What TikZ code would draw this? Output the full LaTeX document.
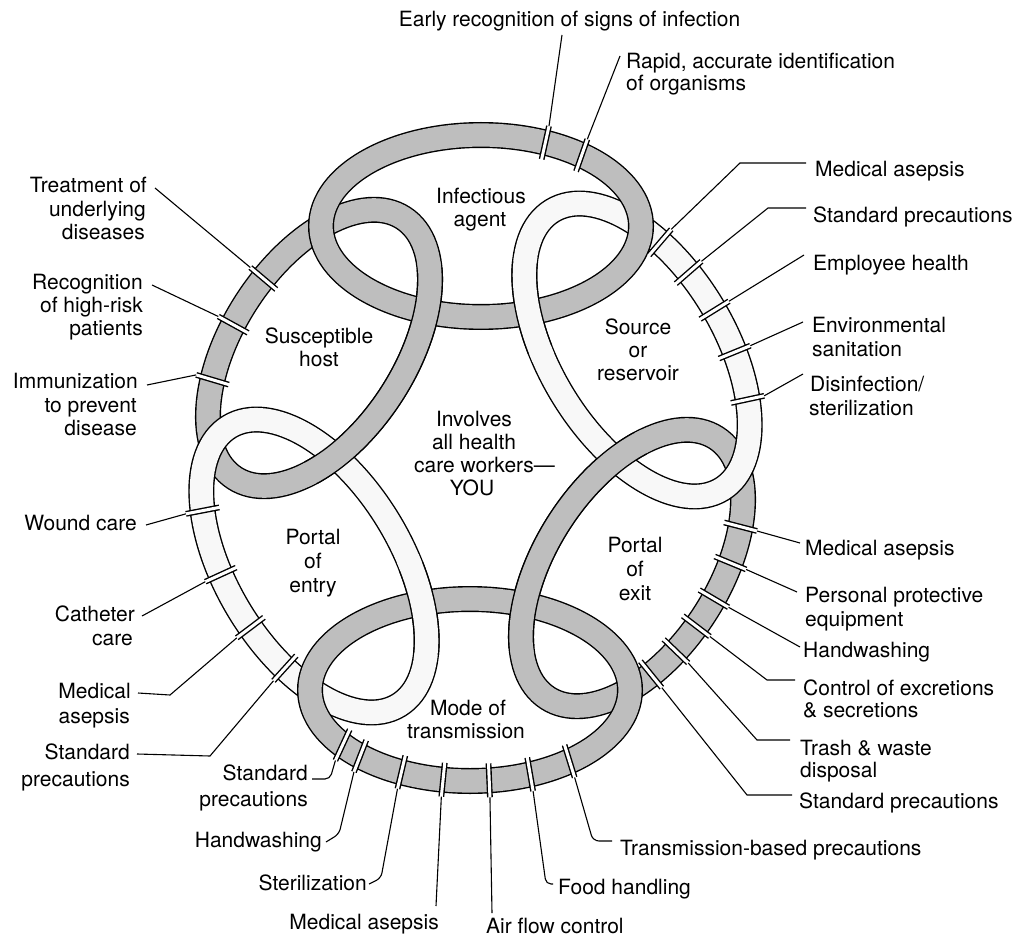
\documentclass[tikz,border=0pt]{standalone}
\usepackage{fontspec}
\setmainfont{TeX Gyre Heros}
\usetikzlibrary{calc}
\definecolor{darkband}{RGB}{190,190,190}
\definecolor{lightband}{RGB}{248,248,248}
\tikzset{
  bo/.style={line width=26pt, draw=black},
  bi/.style={line width=23.2pt, draw=#1},
  lbl/.style={inner sep=0pt, font=\fontsize{21}{24}\selectfont},
  leader/.style={line width=1.1pt},
  eI/.style={shift={(481,226)}},
  eS/.style={shift={(637,350)},rotate=-58.7},
  eE/.style={shift={(632,568)},rotate=57},
  eM/.style={shift={(470,690)}},
  eN/.style={shift={(314,566)},rotate=-58.7},
  eH/.style={shift={(319,348)},rotate=57},
}
\newcommand\bandfull[4]{%
  \draw[#1, bo] (0,0) ellipse [x radius=#2, y radius=#3];
  \draw[#1, bi=#4] (0,0) ellipse [x radius=#2, y radius=#3];}
\newcommand\bandarc[6]{%
  \draw[#1, bo] (#5:#2 and #3) arc[start angle=#5, end angle=#6, x radius=#2, y radius=#3];
  \pgfmathsetmacro\ta{#5-3}\pgfmathsetmacro\tb{#6+3}%
  \draw[#1, bi=#4] (\ta:#2 and #3) arc[start angle=\ta, end angle=\tb, x radius=#2, y radius=#3];}
\newcommand\divpt[5]{\path[#1] (#4:#2 and #3) coordinate (#5);
  \coordinate (#5o) at ($(#5)!-17pt!(O)$);}
\newcommand\divdraw[1]{%
  \draw[line width=5.8pt] ($(#1)!17pt!(O)$) -- ($(#1)!-17pt!(O)$);
  \draw[white, line width=3pt] ($(#1)!18pt!(O)$) -- ($(#1)!-18pt!(O)$);}
\begin{document}
\begin{tikzpicture}[x=1pt,y=-1pt]
\useasboundingbox (0,0) rectangle (1022,941);
\fill[white] (0,0) rectangle (1022,941);
\coordinate (O) at (475.5,458);
% full bands, bottom to top
\bandfull{eH}{155}{86}{darkband}
\bandfull{eE}{155}{86}{darkband}
\bandfull{eS}{163}{87}{lightband}
\bandfull{eN}{163}{87}{lightband}
\bandfull{eI}{160}{91}{darkband}
\bandfull{eM}{160}{91}{darkband}
% interior crossings
\bandarc{eS}{163}{87}{lightband}{108}{145}
\bandarc{eN}{163}{87}{lightband}{288}{325}
\bandarc{eE}{155}{86}{darkband}{215}{315}
\bandarc{eH}{155}{86}{darkband}{35}{135}
% divider points
\divpt{eI}{160}{91}{-66.3}{d1}
\divpt{eI}{160}{91}{-51}{d2}
\divpt{eS}{163}{87}{-119.4}{d3}
\divpt{eS}{163}{87}{-104}{d4}
\divpt{eS}{163}{87}{-87.8}{d5}
\divpt{eS}{163}{87}{-71.2}{d6}
\divpt{eS}{163}{87}{-52.3}{d7}
\divpt{eE}{155}{86}{52.8}{d8}
\divpt{eE}{155}{86}{68.1}{d9}
\divpt{eE}{155}{86}{83}{d10}
\divpt{eE}{155}{86}{95.1}{d11}
\divpt{eE}{155}{86}{107.2}{d12}
\divpt{eE}{155}{86}{120.6}{d13}
\divpt{eM}{160}{91}{51.5}{d14}
\divpt{eM}{160}{91}{67.9}{d15}
\divpt{eM}{160}{91}{83.1}{d16}
\divpt{eM}{160}{91}{99.7}{d17}
\divpt{eM}{160}{91}{115.4}{d18}
\divpt{eM}{160}{91}{133.4}{d19}
\divpt{eM}{160}{91}{142.8}{d20}
\divpt{eN}{163}{87}{63.7}{d21}
\divpt{eN}{163}{87}{83.1}{d22}
\divpt{eN}{163}{87}{104.6}{d23}
\divpt{eN}{163}{87}{130.2}{d24}
\divpt{eH}{155}{86}{-123.1}{d25}
\divpt{eH}{155}{86}{-100.1}{d26}
\divpt{eH}{155}{86}{-79.6}{d27}
\foreach \k in {1,...,27}{\divdraw{d\k}}
% leader start points
\coordinate (k1) at (562,35);
\coordinate (k2) at (620,56);
\coordinate (k3) at (806,163);
\coordinate (k4) at (806,208);
\coordinate (k5) at (804,255);
\coordinate (k6) at (803,322);
\coordinate (k7) at (803,374);
\coordinate (k8) at (800,543);
\coordinate (k9) at (797,592);
\coordinate (k10) at (800,647);
\coordinate (k11) at (795,680);
\coordinate (k12) at (790,740);
\coordinate (k13) at (792,795);
\coordinate (k14) at (612,841);
\coordinate (k15) at (553,884);
\coordinate (k16) at (492,913);
\coordinate (k17) at (436,906);
\coordinate (k18) at (369,884);
\coordinate (k19) at (326,842);
\coordinate (k20) at (312,779);
\coordinate (k21) at (137,754);
\coordinate (k22) at (138,693);
\coordinate (k23) at (142,616);
\coordinate (k24) at (146,525);
\coordinate (k25) at (147,385);
\coordinate (k26) at (152,285);
\coordinate (k27) at (155,188);
\draw[leader] (k1) -- (d1o);
\draw[leader] (k2) -- (d2o);
\draw[leader] (k3) -- (740,163) -- (d3o);
\draw[leader] (k4) -- (768,208) -- (d4o);
\draw[leader] (k5) -- (d5o);
\draw[leader] (k6) -- (d6o);
\draw[leader] (k7) -- (d7o);
\draw[leader] (k8) -- (d8o);
\draw[leader] (k9) -- (d9o);
\draw[leader] (k10) -- (d10o);
\draw[leader] (k11) -- (767,680) -- (d11o);
\draw[leader] (k12) -- (757,740) -- (d12o);
\draw[leader] (k13) -- (747,795) -- (d13o);
\draw[leader, rounded corners=6pt] (k14) -- (593,841) -- (d14o);
\draw[leader, rounded corners=5pt] (k15) -- (546,884) -- (d15o);
\draw[leader] (k16) -- (d16o);
\draw[leader] (k17) -- (d17o);
\draw[leader, rounded corners=5pt] (k18) -- (381,878) -- (d18o);
\draw[leader, rounded corners=5pt] (k19) -- (339,834) -- (d19o);
\draw[leader, rounded corners=5pt] (k20) -- (330,779) -- (d20o);
\draw[leader] (k21) -- (210,756) -- (d21o);
\draw[leader] (k22) -- (170,695) -- (d22o);
\draw[leader] (k23) -- (d23o);
\draw[leader] (k24) -- (d24o);
\draw[leader] (k25) -- (d25o);
\draw[leader] (k26) -- (d26o);
\draw[leader] (k27) -- (d27o);
% outer labels
\node[lbl, anchor=base] (t1) at (569.5,27) {Early recognition of signs of infection};
\node[lbl, anchor=base west] (t2a) at (626,69) {Rapid, accurate identification};
\node[lbl, anchor=base west] (t2b) at (626,91) {of organisms};
\node[lbl, anchor=base west] (t3) at (815,177) {Medical asepsis};
\node[lbl, anchor=base west] (t4) at (813,223) {Standard precautions};
\node[lbl, anchor=base west] (t5) at (813,270) {Employee health};
\node[lbl, anchor=base west] (t6a) at (812,332) {Environmental};
\node[lbl, anchor=base west] (t6b) at (812,356) {sanitation};
\node[lbl, anchor=base west] (t7a) at (810,391) {Disinfection/};
\node[lbl, anchor=base west] (t7b) at (809,415) {sterilization};
\node[lbl, anchor=base west] (t8) at (805,555) {Medical asepsis};
\node[lbl, anchor=base west] (t9a) at (805,602) {Personal protective};
\node[lbl, anchor=base west] (t9b) at (805,626) {equipment};
\node[lbl, anchor=base west] (t10) at (803,657) {Handwashing};
\node[lbl, anchor=base west] (t11a) at (803,695) {Control of excretions};
\node[lbl, anchor=base west] (t11b) at (803,717) {\& secretions};
\node[lbl, anchor=base west] (t12a) at (800,755) {Trash \& waste};
\node[lbl, anchor=base west] (t12b) at (800,777) {disposal};
\node[lbl, anchor=base west] (t13) at (799,808) {Standard precautions};
\node[lbl, anchor=base west] (t14) at (620,855) {Transmission-based precautions};
\node[lbl, anchor=base west] (t15) at (558,894) {Food handling};
\node[lbl, anchor=base west] (t16) at (486,933) {Air flow control};
\node[lbl, anchor=base east] (t17) at (439,929) {Medical asepsis};
\node[lbl, anchor=base east] (t18) at (367,890) {Sterilization};
\node[lbl, anchor=base east] (t19) at (322,847) {Handwashing};
\node[lbl, anchor=base east] (t20a) at (308,780) {Standard};
\node[lbl, anchor=base east] (t20b) at (308,806) {precautions};
\node[lbl, anchor=base east] (t21a) at (130,759) {Standard};
\node[lbl, anchor=base east] (t21b) at (130,786) {precautions};
\node[lbl, anchor=base east] (t22a) at (131,698) {Medical};
\node[lbl, anchor=base east] (t22b) at (130,723) {asepsis};
\node[lbl, anchor=base east] (t23a) at (135,621) {Catheter};
\node[lbl, anchor=base east] (t23b) at (133,645) {care};
\node[lbl, anchor=base east] (t24) at (137,530) {Wound care};
\node[lbl, anchor=base east] (t25a) at (138,388) {Immunization};
\node[lbl, anchor=base east] (t25b) at (137,412) {to prevent};
\node[lbl, anchor=base east] (t25c) at (137,435) {disease};
\node[lbl, anchor=base east] (t26a) at (143,289) {Recognition};
\node[lbl, anchor=base east] (t26b) at (143,312) {of high-risk};
\node[lbl, anchor=base east] (t26c) at (143,335) {patients};
\node[lbl, anchor=base east] (t27a) at (147,193) {Treatment of};
\node[lbl, anchor=base east] (t27b) at (146,217) {underlying};
\node[lbl, anchor=base east] (t27c) at (145,240) {diseases};
% inner labels
\node[lbl, anchor=base] (c1a) at (481,204) {Infectious};
\node[lbl, anchor=base] (c1b) at (480,227) {agent};
\node[lbl, anchor=base] (c2a) at (638,334) {Source};
\node[lbl, anchor=base] (c2b) at (638,357) {or};
\node[lbl, anchor=base] (c2c) at (638,380) {reservoir};
\node[lbl, anchor=base] (c3a) at (319,343) {Susceptible};
\node[lbl, anchor=base] (c3b) at (319,366) {host};
\node[lbl, anchor=base] (c4a) at (474,426) {Involves};
\node[lbl, anchor=base] (c4b) at (474,449) {all health};
\node[lbl, anchor=base] (c4c) at (474,472) {care workers\rlap{—}};
\node[lbl, anchor=base] (c4d) at (472,495) {YOU};
\node[lbl, anchor=base] (c5a) at (313,544) {Portal};
\node[lbl, anchor=base] (c5b) at (313,568) {of};
\node[lbl, anchor=base] (c5c) at (313,592) {entry};
\node[lbl, anchor=base] (c6a) at (635,552) {Portal};
\node[lbl, anchor=base] (c6b) at (635,576) {of};
\node[lbl, anchor=base] (c6c) at (635,600) {exit};
\node[lbl, anchor=base] (c7a) at (468,715) {Mode of};
\node[lbl, anchor=base] (c7b) at (466,738) {transmission};
\end{tikzpicture}
\end{document}
